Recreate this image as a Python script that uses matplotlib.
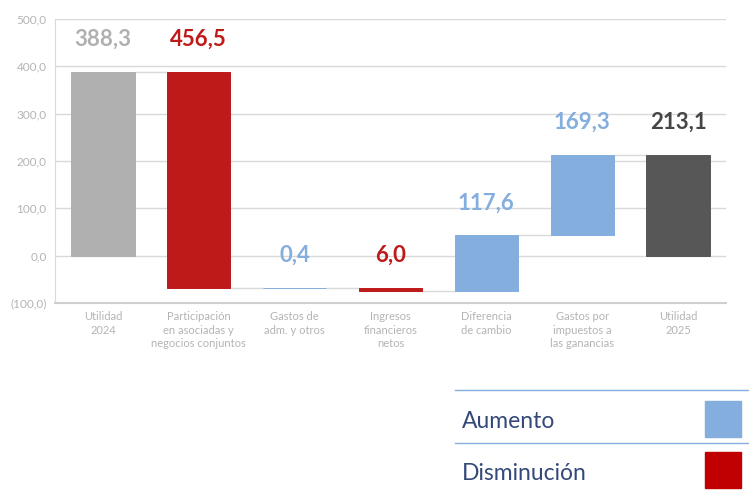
import numpy as np
import matplotlib
matplotlib.use("Agg")
import matplotlib.pyplot as plt
from matplotlib.patches import Rectangle

categories = ["Utilidad\n2024", "Participación\nen asociadas y\nnegocios conjuntos",
              "Gastos de\nadm. y otros", "Ingresos\nfinancieros\nnetos",
              "Diferencia\nde cambio", "Gastos por\nimpuestos a\nlas ganancias",
              "Utilidad\n2025"]
# signed changes; first and last are totals
values = [388.3, -456.5, 0.4, -6.0, 117.6, 169.3, 213.1]
kinds = ["total", "change", "change", "change", "change", "change", "total"]
labels = ["388,3", "456,5", "0,4", "6,0", "117,6", "169,3", "213,1"]
yticks = [-100, 0, 100, 200, 300, 400, 500]
ytick_labels = ["(100,0)", "0,0", "100,0", "200,0", "300,0", "400,0", "500,0"]

GRAY = "#b0b0b0"
RED = "#be1a1a"
BLUE = "#84aedd"
DARK = "#575757"
GRID = "#d9d9d9"
TICK = "#b4b4b4"

plt.rcParams['font.family'] = ['Lato', 'DejaVu Sans']

fig = plt.figure(figsize=(7.49, 4.91), dpi=100)
ax = fig.add_axes([55 / 749, 1 - 303 / 491, (726 - 55) / 749, (303 - 19) / 491])

x = np.arange(len(categories))
width = 0.66
running = 0.0
bottoms, heights, colors, label_colors = [], [], [], []
for i, (v, k) in enumerate(zip(values, kinds)):
    if k == "total":
        bottoms.append(0)
        heights.append(v)
        running = v
        c = GRAY if i == 0 else DARK
        colors.append(c)
        label_colors.append(GRAY if i == 0 else "#454545")
    else:
        new = running + v
        bottoms.append(min(running, new))
        heights.append(abs(v))
        colors.append(BLUE if v > 0 else RED)
        label_colors.append(BLUE if v > 0 else RED)
        running = new

ax.bar(x, heights, bottom=bottoms, width=width, color=colors,
       edgecolor=colors, linewidth=0.7, zorder=3)

# connectors
levels = []
running = 0.0
for v, k in zip(values, kinds):
    running = v if k == "total" else running + v
    levels.append(running)
for i in range(len(x) - 1):
    ax.plot([x[i] + width / 2, x[i + 1] - width / 2], [levels[i], levels[i]],
            color=GRID, lw=1, zorder=2)

# value labels
for i in range(len(x)):
    top = bottoms[i] + heights[i]
    ax.text(x[i], top + 68, labels[i], ha="center", va="center",
            fontsize=16, fontweight="bold", color=label_colors[i], zorder=4)

ax.set_xlim(-0.5, len(x) - 0.5)
ax.set_ylim(-100, 500)
ax.set_yticks(yticks)
ax.set_yticklabels(ytick_labels, color=TICK, fontsize=8.5)
ax.set_xticks(x)
ax.set_xticklabels(categories, color=TICK, fontsize=8, linespacing=1.25)
ax.tick_params(length=0, pad=6)
ax.grid(axis="y", color=GRID, lw=1, zorder=0)
for s in ["top", "right"]:
    ax.spines[s].set_visible(False)
ax.spines["left"].set_color(GRID)
ax.spines["bottom"].set_color("#cfcfcf")
ax.spines["bottom"].set_linewidth(1.5)

# legend block
def fx(px):
    return px / 749

def fy(py):
    return 1 - py / 491

for py in [390, 443]:
    fig.add_artist(plt.Line2D([fx(455), fx(749)], [fy(py), fy(py)], color=BLUE, lw=1))
fig.text(fx(462), fy(421), "Aumento", fontsize=16.5, color="#34497a", va="center")
fig.text(fx(462), fy(473), "Disminución", fontsize=16.5, color="#34497a", va="center")
fig.add_artist(Rectangle((fx(705), fy(437)), fx(36), 36 / 491, color=BLUE,
                         transform=fig.transFigure))
fig.add_artist(Rectangle((fx(705), fy(488)), fx(36), 36 / 491, color="#c00000",
                         transform=fig.transFigure))

fig.savefig("out.png", dpi=100)
